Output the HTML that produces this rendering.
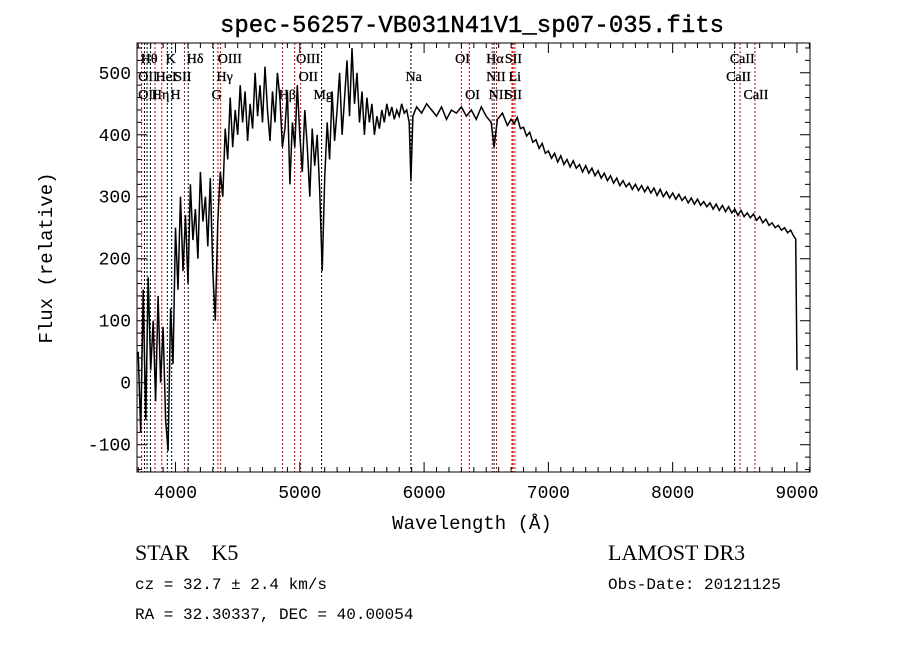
<!DOCTYPE html>
<html><head><meta charset="utf-8"><style>
body{margin:0;background:#fff}
svg text{font-family:"Liberation Serif",serif;fill:#000}
.m{font-family:"Liberation Mono",monospace}
</style></head><body>
<svg width="900" height="649" id="c">
<text class="m" x="472" y="32" font-size="24" text-anchor="middle" stroke="#000" stroke-width="0.4">spec-56257-VB031N41V1_sp07-035.fits</text>
<text class="m" x="472" y="529" font-size="19" text-anchor="middle">Wavelength (Å)</text>
<text class="m" x="0" y="0" font-size="19" text-anchor="middle" transform="translate(52,258) rotate(-90)">Flux (relative)</text>
<text x="135" y="560" font-size="22">STAR&#160;&#160;&#160;&#160;K5</text>
<text class="m" x="135" y="589" font-size="16">cz = 32.7 ± 2.4 km/s</text>
<text class="m" x="135" y="619" font-size="16">RA =  32.30337, DEC =  40.00054</text>
<text x="608" y="560" font-size="22">LAMOST DR3</text>
<text class="m" x="608" y="589" font-size="16">Obs-Date: 20121125</text>
<g id="g"></g>
</svg>
<script>
const xTicks=[4000,5000,6000,7000,8000,9000];
const yTicks=[-100,0,100,200,300,400,500];
const waves=[3700,3720,3740,3760,3780,3800,3820,3840,3860,3880,3900,3920,3940,3960,3980,4000,4020,4040,4060,4080,4100,4120,4140,4160,4180,4200,4220,4240,4260,4280,4300,4320,4340,4360,4380,4400,4420,4440,4460,4480,4500,4520,4540,4560,4580,4600,4620,4640,4660,4680,4700,4720,4740,4760,4780,4800,4820,4840,4860,4880,4900,4920,4940,4960,4980,5000,5020,5040,5060,5080,5100,5120,5140,5160,5180,5200,5220,5240,5260,5280,5300,5320,5340,5360,5380,5400,5420,5440,5460,5480,5500,5520,5540,5560,5580,5600,5620,5640,5660,5680,5700,5720,5740,5760,5780,5800,5820,5840,5860,5880,5894,5910,5940,5980,6020,6060,6100,6140,6180,6220,6260,6300,6340,6380,6420,6460,6500,6540,6563,6590,6630,6670,6700,6725,6750,6775,6800,6825,6850,6875,6900,6925,6950,6975,7000,7025,7050,7075,7100,7125,7150,7175,7200,7225,7250,7275,7300,7325,7350,7375,7400,7425,7450,7475,7500,7525,7550,7575,7600,7625,7650,7675,7700,7725,7750,7775,7800,7825,7850,7875,7900,7925,7950,7975,8000,8025,8050,8075,8100,8125,8150,8175,8200,8225,8250,8275,8300,8325,8350,8375,8400,8425,8450,8475,8500,8525,8550,8575,8600,8625,8650,8675,8700,8725,8750,8775,8800,8825,8850,8875,8900,8925,8950,8975,8990,9000];
const flux=[50,-80,150,-60,170,20,100,-30,140,0,90,-60,-110,120,30,250,150,300,180,270,160,320,230,280,200,340,260,300,220,330,180,100,260,340,300,410,360,460,380,440,400,480,420,470,390,450,410,500,430,480,420,510,440,390,470,420,500,460,380,410,470,320,420,380,480,400,340,440,380,300,410,350,400,310,180,330,420,360,470,390,440,500,400,460,520,430,540,450,500,420,470,400,460,420,450,400,430,410,440,420,450,430,445,425,440,430,450,435,440,420,325,430,445,435,450,440,430,445,425,440,435,445,430,440,425,445,430,420,380,425,435,415,425,418,428,410,412,398,404,388,392,378,386,370,374,362,370,356,366,352,360,348,358,346,352,340,350,338,346,334,342,330,338,326,334,322,330,318,326,316,322,312,320,310,318,308,316,306,314,302,312,300,308,298,306,296,304,294,300,290,298,288,296,286,292,284,290,280,288,278,286,276,284,274,280,270,278,268,274,266,272,262,268,258,264,254,258,250,254,246,250,242,246,236,232,20];
const lines=[[3727,'r'],[3750,'k'],[3771,'k'],[3798,'k'],[3835,'r'],[3889,'r'],[3934,'k'],[3969,'k'],[4072,'r'],[4102,'k'],[4304,'k'],[4341,'r'],[4363,'r'],[4861,'r'],[4959,'r'],[5007,'r'],[5175,'k'],[5894,'k'],[6300,'r'],[6364,'r'],[6548,'r'],[6563,'k'],[6583,'r'],[6707,'r'],[6716,'r'],[6731,'r'],[8498,'k'],[8542,'r'],[8662,'r']];
const labels=[['Hθ',3720,58],['K',3920,58],['Hδ',4090,58],['OIII',4340,58],['OIII',4970,58],['OII',3700,76],['HeI',3840,76],['SII',3990,76],['Hγ',4330,76],['OII',4990,76],['OII',3700,94],['Hη',3810,94],['H',3960,94],['G',4290,94],['Hβ',4830,94],['Mg',5110,94],['Na',5850,76],['OI',6250,58],['OI',6330,94],['Hα',6500,58],['SII',6650,58],['NII',6500,76],['Li',6680,76],['NII',6520,94],['SII',6650,94],['CaII',8460,58],['CaII',8430,76],['CaII',8570,94]];
const L=137,R=810,T=43,B=472,x0=3690,x1=9105,y0=-144,y1=548;
const X=w=>L+(w-x0)/(x1-x0)*(R-L), Y=f=>B-(f-y0)/(y1-y0)*(B-T);
const g=document.getElementById('g'),NS='http://www.w3.org/2000/svg';
function mk(t,a){const e=document.createElementNS(NS,t);for(const k in a)e.setAttribute(k,a[k]);g.appendChild(e);return e;}
lines.forEach(l=>{const e=mk('line',{x1:X(l[0]),x2:X(l[0]),y1:T,y2:B,stroke:l[1]=='r'?'#c00':'#000','stroke-width':1,'stroke-dasharray':'2,2'});

});
labels.forEach(l=>{const e=mk('text',{x:X(l[1]),y:l[2]+5,'font-size':14,stroke:'#000','stroke-width':0.3});e.textContent=l[0];

});
const p=mk('polyline',{points:waves.map((w,i)=>X(w).toFixed(1)+','+Y(flux[i]).toFixed(1)).join(' '),fill:'none',stroke:'#000','stroke-width':1.5});


const fr=mk('rect',{x:L,y:T,width:R-L,height:B-T,fill:'none',stroke:'#000'});


for(let w=3700;w<=9100;w+=100){const maj=w%1000==0,len=maj?10:5;
mk('line',{x1:X(w),x2:X(w),y1:B,y2:B-len,stroke:'#000'});mk('line',{x1:X(w),x2:X(w),y1:T,y2:T+len,stroke:'#000'});}
for(let f=-140;f<=540;f+=20){const maj=f%100==0,len=maj?10:5;
mk('line',{x1:L,x2:L+len,y1:Y(f),y2:Y(f),stroke:'#000'});mk('line',{x1:R,x2:R-len,y1:Y(f),y2:Y(f),stroke:'#000'});}
xTicks.forEach(w=>{const e=mk('text',{x:X(w),y:B+26,'font-size':18,'text-anchor':'middle',class:'m'});e.textContent=w;

});
yTicks.forEach(f=>{const e=mk('text',{x:L-6,y:Y(f)+6,'font-size':18,'text-anchor':'end',class:'m'});e.textContent=f;

});
</script>
</body></html>
